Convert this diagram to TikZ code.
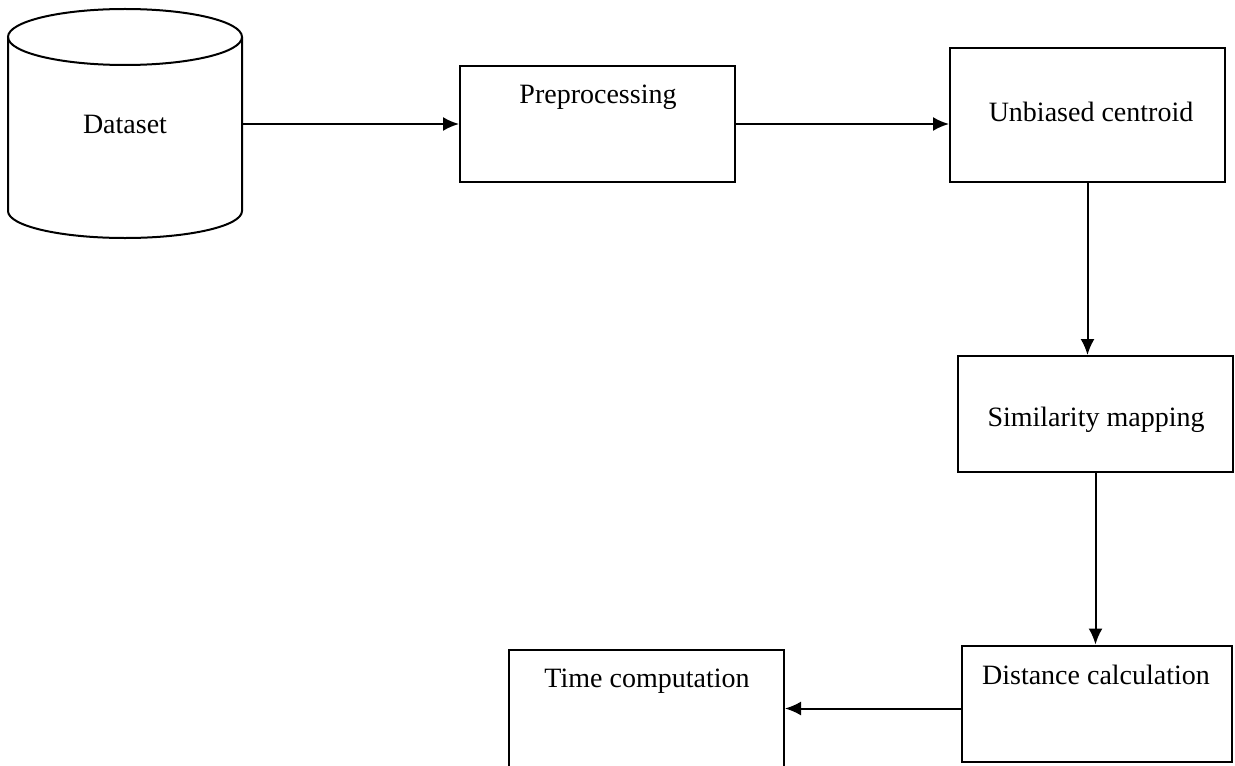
\documentclass[tikz,border=0pt]{standalone}
\usepackage{fontspec}
\setmainfont{Liberation Serif}
\usetikzlibrary{arrows.meta}
\tikzstyle{block}=[draw, line width=1pt, minimum width=137.5pt, minimum height=58pt, inner sep=0pt]
\tikzstyle{label}=[font=\fontsize{14}{17}\selectfont, inner sep=0pt]

\begin{document}
\begin{tikzpicture}[x=0.5pt, y=-0.5pt, line width=1pt, >={Latex[length=8pt,width=7pt]}]
\useasboundingbox (0,0) rectangle (1235,765);
% dataset drum
\draw (125,37) ellipse [x radius=58.5pt, y radius=14pt];
\draw (8,37) -- (8,211) arc [start angle=180, end angle=360, x radius=58.5pt, y radius=13.5pt] -- (242,37);
\node[label, minimum width=117pt, minimum height=90pt] at (125,124) (data) {Dataset};
% boxes
\node[block] at (597.5,124) (pre) {};
\node[block, minimum height=67pt] at (1087.5,115) (unb) {};
\node[block] at (1095.5,414) (sim) {};
\node[block, minimum width=135pt] at (1097,703.5) (dist) {};
\node[block, minimum height=62.5pt] at (646.5,712) (time) {};
% texts
\node[label] at (598,97) (pre-t) {Preprocessing};
\node[label] at (1091,112) (unb-t) {Unbiased centroid};
\node[label] at (1096,420) (sim-t) {Similarity mapping};
\node[label] at (1096,675) (dist-t) {Distance calculation};
\node[label] at (647,681) (time-t) {Time computation};
% arrows
\draw[->] (data.east) -- (data.east -| pre.west);
\draw[->] (pre.east) -- (pre.east -| unb.west);
\draw[->] (unb.south) -- (unb.south |- sim.north);
\draw[->] (sim.south) -- (sim.south |- dist.north);
\draw[->] ([yshift=-2.5pt]dist.west) -- ([yshift=-2.5pt]dist.west -| time.east);
\end{tikzpicture}
\end{document}
